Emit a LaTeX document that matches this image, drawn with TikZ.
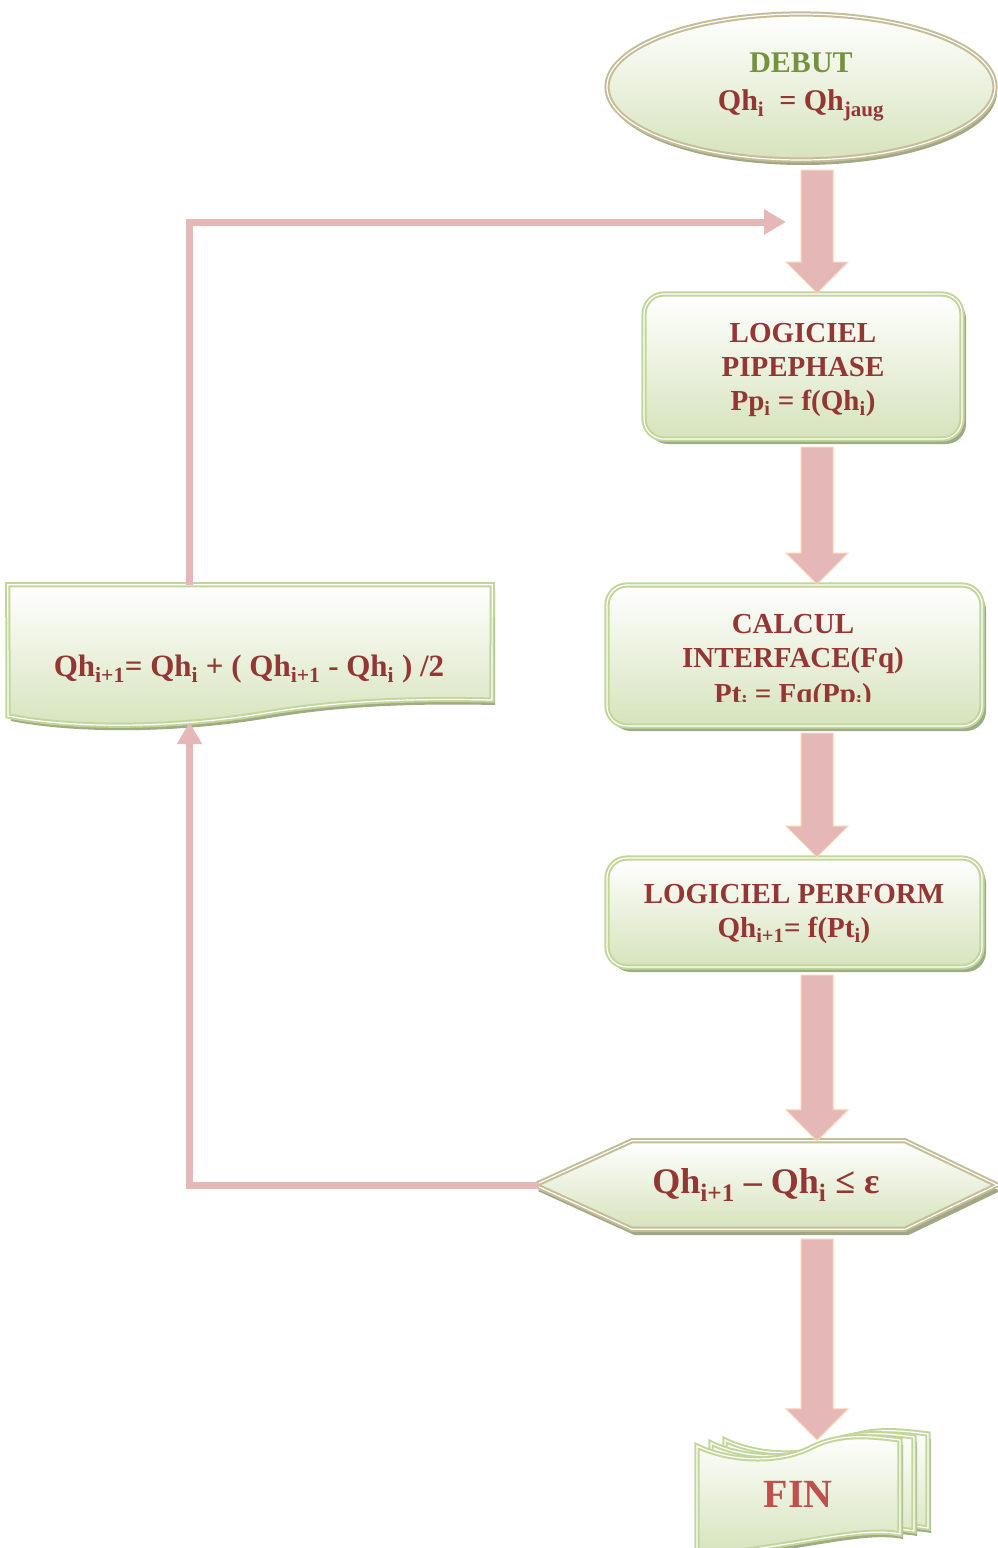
\documentclass[tikz,border=0pt]{standalone}
\usepackage{fontspec}
\setmainfont{Liberation Serif}
\usetikzlibrary{shapes.geometric,shadows,calc,backgrounds,arrows.meta}

\definecolor{txtred}{HTML}{943634}
\definecolor{debgreen}{HTML}{76923C}
\definecolor{finred}{HTML}{C0504D}
\definecolor{boxgreen}{HTML}{C2D69B}
\definecolor{fillgreen}{HTML}{D6E3BC}
\definecolor{shadowgreen}{HTML}{9DAC82}
\definecolor{tanline}{HTML}{C4BD97}
\definecolor{tanshadow}{HTML}{A0A886}
\definecolor{arrowpink}{HTML}{E5B8B7}
\definecolor{arrowedge}{HTML}{FBD4B4}

\newcommand\boxfnt{\bfseries\fontsize{29}{34}\selectfont}
\newcommand\sbt[1]{\textsubscript{#1}}

\begin{document}
\begin{tikzpicture}[x=1pt,y=-1pt,
  fillsty/.style={top color=white, bottom color=fillgreen},
  gbox/.style={rectangle, rounded corners=20pt, draw=boxgreen, double=white,
    double distance=1.2pt, line width=2pt, fillsty,
    drop shadow={shadow xshift=4pt, shadow yshift=-5pt, fill=shadowgreen, opacity=1},
    font=\boxfnt, text=txtred, align=center, inner sep=0pt},
  ellsty/.style={ellipse, draw=tanline, double=white, double distance=1.2pt,
    line width=2pt, fillsty,
    drop shadow={shadow xshift=2pt, shadow yshift=-5pt, fill=tanshadow, opacity=1},
    font=\bfseries\fontsize{30}{38}\selectfont, text=txtred, align=center, inner sep=0pt},
  hexsty/.style={draw=tanline, double=white, double distance=1.2pt, line width=2pt,
    fillsty, line join=miter,
    drop shadow={shadow xshift=3pt, shadow yshift=-6pt, fill=tanshadow, opacity=1}},
  docsty/.style={draw=boxgreen, double=white, double distance=1.2pt, line width=2pt,
    fillsty,
    drop shadow={shadow xshift=3pt, shadow yshift=-5pt, fill=shadowgreen, opacity=1}},
  frame/.style={rectangle, inner sep=0pt},
  txt/.style={font=\boxfnt, text=txtred, inner sep=0pt},
  barrow/.style={fill=arrowpink, draw=arrowedge, line width=1pt, line join=miter},
  loopline/.style={draw=arrowpink, line width=7pt,
    -{Triangle[length=22pt,width=24pt]}},
]
\useasboundingbox (0,0) rectangle (997,1548);
\begin{scope}[on background layer]
  \fill[white] (0,0) rectangle (997,1548);
\end{scope}

\coordinate (ax) at (817,0);
\coordinate (lx) at (189.5,0);

% start ellipse
\node[ellsty, minimum width=388pt, minimum height=146pt] (deb) at (801,87)
  {{\color{debgreen}DEBUT}\\Qh\sbt{i} \ = Qh\sbt{jaug}};

% box 1
\node[gbox, minimum width=318pt, minimum height=145pt] (b1) at (803,366.5) {};
\node[txt, align=center, anchor=base] (b1t) at (803,410)
  {LOGICIEL\\PIPEPHASE\\Pp\sbt{i} = f(Qh\sbt{i})};

% box 2
\node[gbox, minimum width=375pt, minimum height=141pt] (b2) at (794.5,655.5) {};
\node[txt, anchor=base] (b2a) at (793,633) {CALCUL};
\node[txt, anchor=base] (b2b) at (793,667) {INTERFACE(Fq)};
\begin{scope}
  \clip (600,600) rectangle (990,701.5);
  \node[txt, anchor=base] (b2c) at (793,703.5) {Pt\sbt{i} = Fq(Pp\sbt{i})};
\end{scope}

% box 3
\node[gbox, minimum width=375pt, minimum height=109pt] (b3) at (794.5,912.5) {};
\node[txt, align=center, anchor=base] (b3t) at (794,937)
  {LOGICIEL PERFORM\\Qh\sbt{i+1}= f(Pt\sbt{i})};

% decision hexagon
\node[frame, minimum width=462pt, minimum height=88pt,
  font=\bfseries\fontsize{36}{40}\selectfont, text=txtred] (hex) at (766,1185)
  {Qh\sbt{i+1} – Qh\sbt{i} ≤ ε};
\begin{scope}[on background layer]
  \draw[hexsty] (hex.west) -- ($(hex.north west)+(97,0)$) -- ($(hex.north east)+(-92,0)$)
    -- (hex.east) -- ($(hex.south east)+(-92,0)$) -- ($(hex.south west)+(97,0)$) -- cycle;
\end{scope}

% update box (left, wavy bottom)
\node[frame, minimum width=484pt, minimum height=138pt] (upd) at (250,654) {};
\node[txt, anchor=base, font=\bfseries\fontsize{31}{34}\selectfont] (updt) at (249,676)
  {Qh\sbt{i+1}= Qh\sbt{i} + ( Qh\sbt{i+1} - Qh\sbt{i} ) /2};
\begin{scope}[on background layer]
  \draw[docsty] (upd.north west) -- (upd.north east) -- (492,700)
    .. controls (400,698) and (330,702) .. (260,714)
    .. controls (180,727) and (80,730) .. (8,716) -- cycle;
\end{scope}

% FIN (multi-document)
\node[frame, minimum width=203pt, minimum height=108pt,
  font=\bfseries\fontsize{40}{44}\selectfont, text=finred] (fin) at (798,1494) {FIN};
\begin{scope}[on background layer]
  \foreach \dx/\dy in {28/-6, 14/-3, 0/0}{
    \draw[docsty, shift={(\dx,\dy)}] (697,1556) -- (697,1446)
      .. controls (730,1462) and (780,1464) .. (812,1447)
      .. controls (840,1433) and (870,1436) .. (900,1440)
      -- (900,1534) .. controls (860,1526) and (800,1546) .. (697,1556) -- cycle;
  }
\end{scope}

% block arrows down the main flow
\newcommand\blockarrow[3]{%
  \coordinate (ba-s) at (#1.south -| ax);
  \coordinate (ba-t) at (#2.north -| ax);
  \draw[barrow] ($(ba-s)+(-16,#3)$) -- ($(ba-t)+(-16,-31)$) -- ($(ba-t)+(-31,-31)$)
    -- (ba-t) -- ($(ba-t)+(31,-31)$) -- ($(ba-t)+(16,-31)$) -- ($(ba-s)+(16,#3)$) -- cycle;}
\blockarrow{deb}{b1}{9}
\blockarrow{b1}{b2}{7}
\blockarrow{b2}{b3}{6}
\blockarrow{b3}{hex}{7}
\blockarrow{hex}{fin}{10}

% loop connectors
\coordinate (updin) at (upd.south -| lx);
\coordinate (loopend) at (786,222);
\draw[loopline] ($(hex.west)+(4,0)$) -| ($(updin)+(0,-1)$);
\draw[loopline] (upd.north -| lx) |- (loopend);
\end{tikzpicture}
\end{document}
